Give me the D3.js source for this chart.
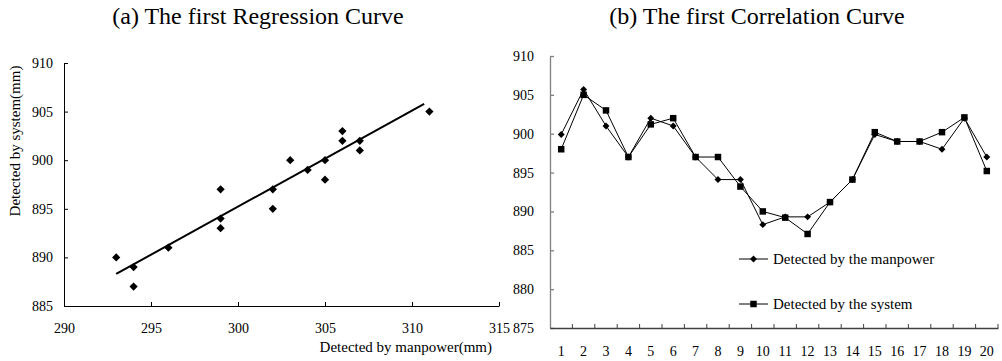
<!DOCTYPE html>
<html>
<head>
<meta charset="utf-8">
<script src="https://cdn.jsdelivr.net/npm/d3@7/dist/d3.min.js"></script>
<style>
  body { margin: 0; background: #fff; }
  svg text { font-family: "Liberation Serif", "Times New Roman", serif; fill: #000; }
</style>
</head>
<body>
<svg id="chart" width="1002" height="361"></svg>
<script>
// scatter data (a)
var manpower = [293, 294, 294, 296, 299, 299, 299, 302, 302, 303, 304, 305, 305, 306, 306, 307, 307, 311];
var system = [890, 889, 887, 891, 897, 894, 893, 897, 895, 900, 899, 900, 898, 903, 902, 902, 901, 905];
// regression line end points
var fitX = [293, 310.7];
var fitY = [888.3, 905.8];
var xTicksA = [290, 295, 300, 305, 310, 315];
var yTicksA = [885, 890, 895, 900, 905, 910];

// correlation data (b)
var samples = d3.range(1, 21);
var byManpower = [899.9, 905.7, 901, 897, 902, 901, 897, 894.1, 894.1, 888.3, 889.3, 889.3, 891.2, 894.1, 899.9, 899, 899, 898, 902, 897];
var bySystem = [898, 905, 903, 897, 901.2, 902, 897, 897, 893.2, 890, 889.2, 887.1, 891.2, 894.1, 900.2, 899, 899, 900.2, 902.1, 895.2];
var yTicksB = [875, 880, 885, 890, 895, 900, 905, 910];
var legendNames = ["Detected by the manpower", "Detected by the system"];

var svg = d3.select("#chart");

// ---------- (a) regression ----------
var xA = d3.scaleLinear().domain([290, 315]).range([64, 499]);
var yA = d3.scaleLinear().domain([885, 910]).range([306, 63]);

svg.append("text")
  .attr("x", 258).attr("y", 24)
  .attr("text-anchor", "middle")
  .attr("font-size", "24px")
  .text("(a) The first Regression Curve");

var gA = svg.append("g");

gA.append("g")
  .attr("transform", "translate(0," + yA(885) + ")")
  .call(d3.axisBottom(xA).tickValues(xTicksA).tickSize(-4).tickPadding(17).tickSizeOuter(0))
  .call(function(g){ g.selectAll("text").attr("font-size", "14px"); });

gA.append("g")
  .attr("transform", "translate(" + xA(290) + ",0)")
  .call(d3.axisLeft(yA).tickValues(yTicksA).tickSize(-4).tickPadding(11).tickSizeOuter(0))
  .call(function(g){ g.selectAll("text").attr("font-size", "14px"); });

gA.selectAll(".domain, .tick line").attr("stroke", "#000");

gA.append("text")
  .attr("x", 492).attr("y", 352)
  .attr("text-anchor", "end")
  .attr("font-size", "15px")
  .text("Detected by manpower(mm)");

gA.append("text")
  .attr("transform", "translate(20,141) rotate(-90)")
  .attr("text-anchor", "middle")
  .attr("font-size", "15px")
  .text("Detected by system(mm)");

gA.append("line")
  .attr("x1", xA(fitX[0])).attr("y1", yA(fitY[0]))
  .attr("x2", xA(fitX[1])).attr("y2", yA(fitY[1]))
  .attr("stroke", "#000").attr("stroke-width", 2);

var diamondBig = d3.symbol().type(d3.symbolSquare).size(34);
gA.selectAll(".pt")
  .data(manpower)
  .enter().append("path")
  .attr("class", "pt")
  .attr("d", diamondBig)
  .attr("transform", function(d, i){ return "translate(" + xA(d) + "," + yA(system[i]) + ") rotate(45)"; })
  .attr("fill", "#000");

// ---------- (b) correlation ----------
var xB = d3.scaleBand().domain(samples).range([550, 998]);
var yB = d3.scaleLinear().domain([875, 910]).range([328, 56]);

svg.append("text")
  .attr("x", 757).attr("y", 24)
  .attr("text-anchor", "middle")
  .attr("font-size", "24px")
  .text("(b) The first Correlation Curve");

var gB = svg.append("g");

var yAxisB = gB.append("g")
  .attr("transform", "translate(550,0)")
  .call(d3.axisLeft(yB).tickValues(yTicksB).tickSize(-4).tickPadding(16).tickSizeOuter(0));
yAxisB.selectAll("text").attr("font-size", "14px");
yAxisB.selectAll(".domain, .tick line").attr("stroke", "#808080").attr("stroke-width", 1.3);

var xAxisB = gB.append("g")
  .attr("transform", "translate(0," + yB(875) + ")")
  .call(d3.axisBottom(xB).tickSize(0).tickPadding(18));
xAxisB.selectAll("text").attr("font-size", "14px");
xAxisB.select(".domain").attr("stroke", "#404040").attr("stroke-width", 1.3);

// tick marks sit between the categories
xAxisB.selectAll(".sep")
  .data(samples.slice(1))
  .enter().append("line")
  .attr("class", "sep")
  .attr("x1", function(d){ return xB(d); }).attr("x2", function(d){ return xB(d); })
  .attr("y1", 0).attr("y2", -4)
  .attr("stroke", "#404040");
xAxisB.append("line")
  .attr("x1", xB.range()[1]).attr("x2", xB.range()[1])
  .attr("y1", 0).attr("y2", -4)
  .attr("stroke", "#404040");

var cx = function(d){ return xB(d) + xB.bandwidth() / 2; };

var line = d3.line()
  .x(function(d, i){ return cx(samples[i]); })
  .y(function(d){ return yB(d); });

gB.append("path").datum(byManpower)
  .attr("d", line).attr("fill", "none").attr("stroke", "#000").attr("stroke-width", 1);
gB.append("path").datum(bySystem)
  .attr("d", line).attr("fill", "none").attr("stroke", "#000").attr("stroke-width", 1);

var diamond = d3.symbol().type(d3.symbolSquare).size(24);
var square = d3.symbol().type(d3.symbolSquare).size(42);

gB.selectAll(".dm")
  .data(byManpower)
  .enter().append("path")
  .attr("class", "dm")
  .attr("d", diamond)
  .attr("transform", function(d, i){ return "translate(" + cx(samples[i]) + "," + yB(d) + ") rotate(45)"; })
  .attr("fill", "#000");

gB.selectAll(".sq")
  .data(bySystem)
  .enter().append("path")
  .attr("class", "sq")
  .attr("d", square)
  .attr("transform", function(d, i){ return "translate(" + cx(samples[i]) + "," + yB(d) + ")"; })
  .attr("fill", "#000");

// legend
var legend = gB.selectAll(".lg")
  .data(legendNames)
  .enter().append("g")
  .attr("class", "lg")
  .attr("transform", function(d, i){ return "translate(739," + (259 + i * 45) + ")"; });

legend.append("line")
  .attr("x1", 0).attr("x2", 29).attr("y1", 0).attr("y2", 0)
  .attr("stroke", "#000");
legend.append("path")
  .attr("d", function(d, i){ return i === 0 ? diamond() : square(); })
  .attr("transform", function(d, i){ return "translate(14.5,0)" + (i === 0 ? " rotate(45)" : ""); })
  .attr("fill", "#000");
legend.append("text")
  .attr("x", 34).attr("y", 0).attr("dy", "0.35em")
  .attr("font-size", "15px")
  .text(function(d){ return d; });
</script>
</body>
</html>
